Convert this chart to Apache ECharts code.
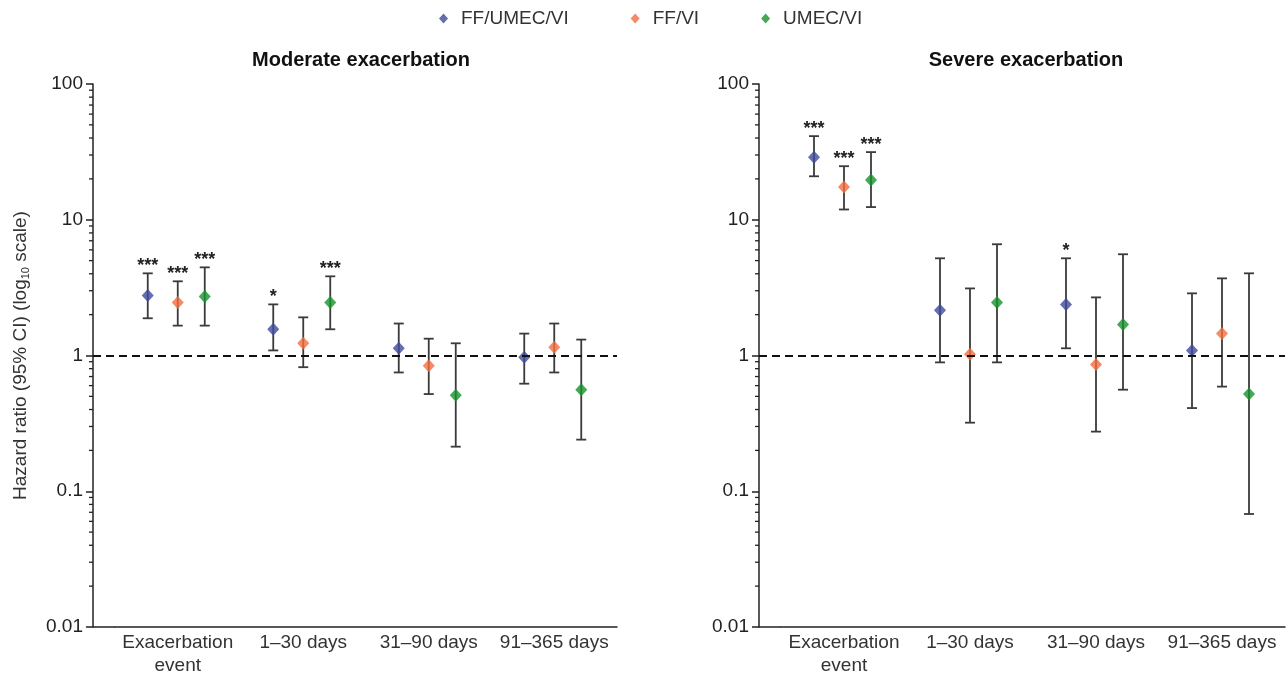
<!DOCTYPE html>
<html>
<head>
<meta charset="utf-8">
<script src="https://cdn.jsdelivr.net/npm/echarts@6/dist/echarts.min.js"></script>
<style>html,body{margin:0;padding:0;background:#fff;}#c{width:1287px;height:681px;}</style>
</head>
<body>
<div id="c"></div>
<script>
// ---------- data ----------
const categories = ['Exacerbation\nevent', '1–30 days', '31–90 days', '91–365 days'];
const seriesNames = ['FF/UMEC/VI', 'FF/VI', 'UMEC/VI'];
const panelTitles = ['Moderate exacerbation', 'Severe exacerbation'];
const yTickValues = [0.01, 0.1, 1, 10, 100];
const minorTickValues = [
  0.02,0.03,0.04,0.05,0.06,0.07,0.08,0.09,
  0.2,0.3,0.4,0.5,0.6,0.7,0.8,0.9,
  2,3,4,5,6,7,8,9,
  20,30,40,50,60,70,80,90
];

// Moderate exacerbation
const modFFUMECVI_hr  = [2.77, 1.56, 1.13, 0.97];
const modFFUMECVI_lo  = [1.88, 1.09, 0.75, 0.62];
const modFFUMECVI_hi  = [4.03, 2.38, 1.72, 1.45];
const modFFUMECVI_sig = ['***', '*', '', ''];

const modFFVI_hr  = [2.46, 1.23, 0.84, 1.15];
const modFFVI_lo  = [1.66, 0.82, 0.52, 0.75];
const modFFVI_hi  = [3.52, 1.91, 1.33, 1.72];
const modFFVI_sig = ['***', '', '', ''];

const modUMECVI_hr  = [2.72, 2.46, 0.51, 0.56];
const modUMECVI_lo  = [1.66, 1.56, 0.213, 0.24];
const modUMECVI_hi  = [4.46, 3.83, 1.23, 1.31];
const modUMECVI_sig = ['***', '***', '', ''];

// Severe exacerbation
const sevFFUMECVI_hr  = [28.9, 2.15, 2.38, 1.09];
const sevFFUMECVI_lo  = [20.9, 0.89, 1.13, 0.41];
const sevFFUMECVI_hi  = [41.3, 5.2, 5.2, 2.87];
const sevFFUMECVI_sig = ['***', '', '*', ''];

const sevFFVI_hr  = [17.4, 1.02, 0.86, 1.45];
const sevFFVI_lo  = [11.9, 0.32, 0.275, 0.59];
const sevFFVI_hi  = [24.8, 3.12, 2.68, 3.7];
const sevFFVI_sig = ['***', '', '', ''];

const sevUMECVI_hr  = [19.6, 2.46, 1.69, 0.52];
const sevUMECVI_lo  = [12.4, 0.89, 0.56, 0.068];
const sevUMECVI_hi  = [31.5, 6.6, 5.57, 4.03];
const sevUMECVI_sig = ['***', '', '', ''];

const referenceLine = 1;

// ---------- styling ----------
const colors = ['#3f4a9a', '#f26d3d', '#16922c'];
const offsets = [-30, 0, 27];
const FONT = 'Liberation Sans, Arial, sans-serif';
const Y_OFFSET = 22;   // y axis drawn left of the category area

const panels = [
  { hr: [modFFUMECVI_hr, modFFVI_hr, modUMECVI_hr], lo: [modFFUMECVI_lo, modFFVI_lo, modUMECVI_lo],
    hi: [modFFUMECVI_hi, modFFVI_hi, modUMECVI_hi], sig: [modFFUMECVI_sig, modFFVI_sig, modUMECVI_sig] },
  { hr: [sevFFUMECVI_hr, sevFFVI_hr, sevUMECVI_hr], lo: [sevFFUMECVI_lo, sevFFVI_lo, sevUMECVI_lo],
    hi: [sevFFUMECVI_hi, sevFFVI_hi, sevUMECVI_hi], sig: [sevFFUMECVI_sig, sevFFVI_sig, sevUMECVI_sig] }
];

const grids = [
  { left: 93 + Y_OFFSET, top: 84, width: 524 - Y_OFFSET, height: 543 },
  { left: 759 + Y_OFFSET, top: 84, width: 526 - Y_OFFSET, height: 543 }
];

const xAxes = grids.map((g, i) => ({
  type: 'category', gridIndex: i, data: categories, boundaryGap: true,
  axisLine: { lineStyle: { color: '#222', width: 1.5 } },
  axisTick: { show: false },
  axisLabel: { color: '#333', fontSize: 19, fontFamily: FONT, margin: 4, lineHeight: 23, interval: 0 },
  splitLine: { show: false }
}));

const yAxes = grids.map((g, i) => ({
  type: 'log', gridIndex: i, logBase: 10, min: 0.01, max: 100, offset: Y_OFFSET,
  axisLine: { show: true, lineStyle: { color: '#222', width: 1.5 } },
  axisTick: { show: true, length: 7, lineStyle: { color: '#222', width: 1.5 } },
  axisLabel: { color: '#222', fontSize: 19, fontFamily: FONT, margin: 10,
    formatter: v => { const m = yTickValues.find(t => Math.abs(Math.log10(t) - Math.log10(v)) < 1e-6); return m === undefined ? '' : String(m); } },
  splitLine: { show: false },
  name: i === 0 ? 'Hazard ratio (95% CI) (log{sub|10} scale)' : '',
  nameLocation: 'middle', nameRotate: 90, nameGap: 62,
  nameTextStyle: { color: '#333', fontSize: 19, fontFamily: FONT,
    rich: { sub: { fontSize: 11, fontFamily: FONT, color: '#333', verticalAlign: 'bottom', padding: [10, 0, 0, 0] } } }
}));

const series = [];
panels.forEach((p, pi) => {
  // minor ticks on the log y axis + base-line continuation to the y axis
  series.push({
    type: 'custom', xAxisIndex: pi, yAxisIndex: pi, silent: true, clip: false,
    data: minorTickValues.map(v => [0, v]),
    renderItem: (params, api) => {
      const y = api.coord([0, api.value(1)])[1];
      const x = params.coordSys.x - Y_OFFSET;
      const children = [{ type: 'line', shape: { x1: x - 4, y1: y, x2: x, y2: y }, style: { stroke: '#222', lineWidth: 1.3 } }];
      if (params.dataIndex === 0) {
        const yb = params.coordSys.y + params.coordSys.height;
        children.push({ type: 'line', shape: { x1: x, y1: yb, x2: params.coordSys.x, y2: yb }, style: { stroke: '#222', lineWidth: 1.5 } });
      }
      return { type: 'group', children };
    },
    z: 1
  });
  seriesNames.forEach((name, si) => {
    const off = offsets[si];
    series.push({
      type: 'custom', name: name + ' CI', xAxisIndex: pi, yAxisIndex: pi, silent: true,
      data: categories.map((c, ci) => [ci, p.lo[si][ci], p.hi[si][ci]]),
      renderItem: (params, api) => {
        const lo = api.coord([api.value(0), api.value(1)]);
        const hi = api.coord([api.value(0), api.value(2)]);
        const x = lo[0] + off;
        const cap = 5;
        const st = { stroke: '#3a3a3a', lineWidth: 1.8 };
        const sig = p.sig[si][params.dataIndex];
        const children = [
          { type: 'line', shape: { x1: x, y1: lo[1], x2: x, y2: hi[1] }, style: st },
          { type: 'line', shape: { x1: x - cap, y1: lo[1], x2: x + cap, y2: lo[1] }, style: st },
          { type: 'line', shape: { x1: x - cap, y1: hi[1], x2: x + cap, y2: hi[1] }, style: st }
        ];
        if (sig) {
          children.push({ type: 'text', style: { text: sig, x: x, y: hi[1] - 7, align: 'center', verticalAlign: 'middle',
            fontSize: 18, fontWeight: 'bold', fontFamily: FONT, fill: '#222' } });
        }
        return { type: 'group', children };
      },
      markLine: si === 0 ? {
        silent: true, symbol: 'none', animation: false,
        label: { show: false },
        lineStyle: { color: '#111', type: [8, 5], width: 1.8 },
        data: [[{ yAxis: referenceLine, x: grids[pi].left - Y_OFFSET }, { yAxis: referenceLine, x: grids[pi].left + grids[pi].width }]]
      } : undefined,
      z: 2
    });
    series.push({
      type: 'scatter', name, xAxisIndex: pi, yAxisIndex: pi,
      symbol: 'diamond', symbolSize: [12, 13], symbolOffset: [off, 0],
      itemStyle: { color: colors[si] },
      data: categories.map((c, ci) => [ci, p.hr[si][ci]]),
      z: 3
    });
  });
});

const chart = echarts.init(document.getElementById('c'), null, { renderer: 'canvas' });
chart.setOption({
  animation: false,
  backgroundColor: '#fff',
  textStyle: { fontFamily: FONT },
  legend: {
    data: seriesNames, top: 4, left: 434, icon: 'diamond', itemWidth: 9, itemHeight: 10, itemGap: 62,
    textStyle: { fontSize: 19, color: '#333', fontFamily: FONT, padding: [0, 0, 0, 8] }
  },
  title: panelTitles.map((t, i) => ({
    text: t, left: i === 0 ? 356 : 1021, top: 45, textAlign: 'center',
    textStyle: { fontSize: 20, fontWeight: 'bold', color: '#111', fontFamily: FONT }
  })),
  grid: grids,
  xAxis: xAxes,
  yAxis: yAxes,
  series
});
</script>
</body>
</html>
